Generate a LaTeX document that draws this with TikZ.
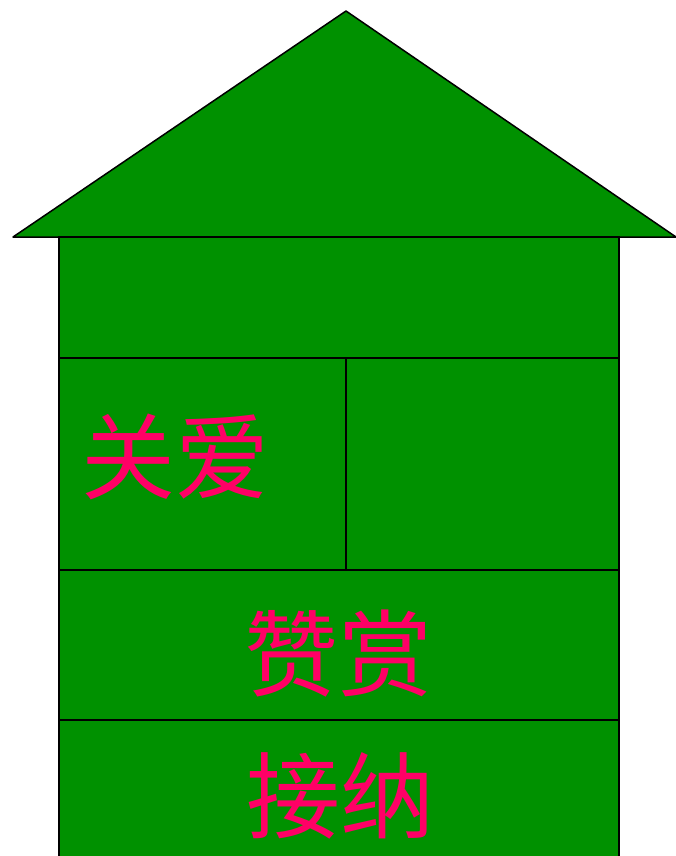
\documentclass[tikz,border=0pt]{standalone}
\usepackage{fontspec}
\newfontfamily\cjk{Noto Sans CJK SC}
\definecolor{housegreen}{RGB}{0,145,0}
\definecolor{wordpink}{RGB}{255,0,102}
\begin{document}
\begin{tikzpicture}[x=1pt, y=-1pt,
    wall/.style={fill=housegreen, draw=black, line width=1.5pt},
    word/.style={text=wordpink, font=\cjk\fontsize{94}{94}\selectfont, inner sep=0pt}]
    \useasboundingbox (0, 0) rectangle (676, 856);
    \begin{scope}
        \clip (0, 0) rectangle (676, 856);
        % roof
        \draw[wall, line join=round] (13, 237) -- (346, 11) -- (676, 237) -- cycle;
        % storeys
        \draw[wall] (59, 237) rectangle (619, 358);
        \draw[wall] (59, 358) rectangle (346, 570);
        \draw[wall] (346, 358) rectangle (619, 570);
        \draw[wall] (59, 570) rectangle (619, 720);
        \draw[wall] (59, 720) rectangle (619, 870);
    \end{scope}
    \node[word] (care) at (175, 457) {关爱};
    \node[word] (praise) at (338, 654) {赞赏};
    \node[word] (accept) at (340, 796) {接纳};
\end{tikzpicture}
\end{document}
